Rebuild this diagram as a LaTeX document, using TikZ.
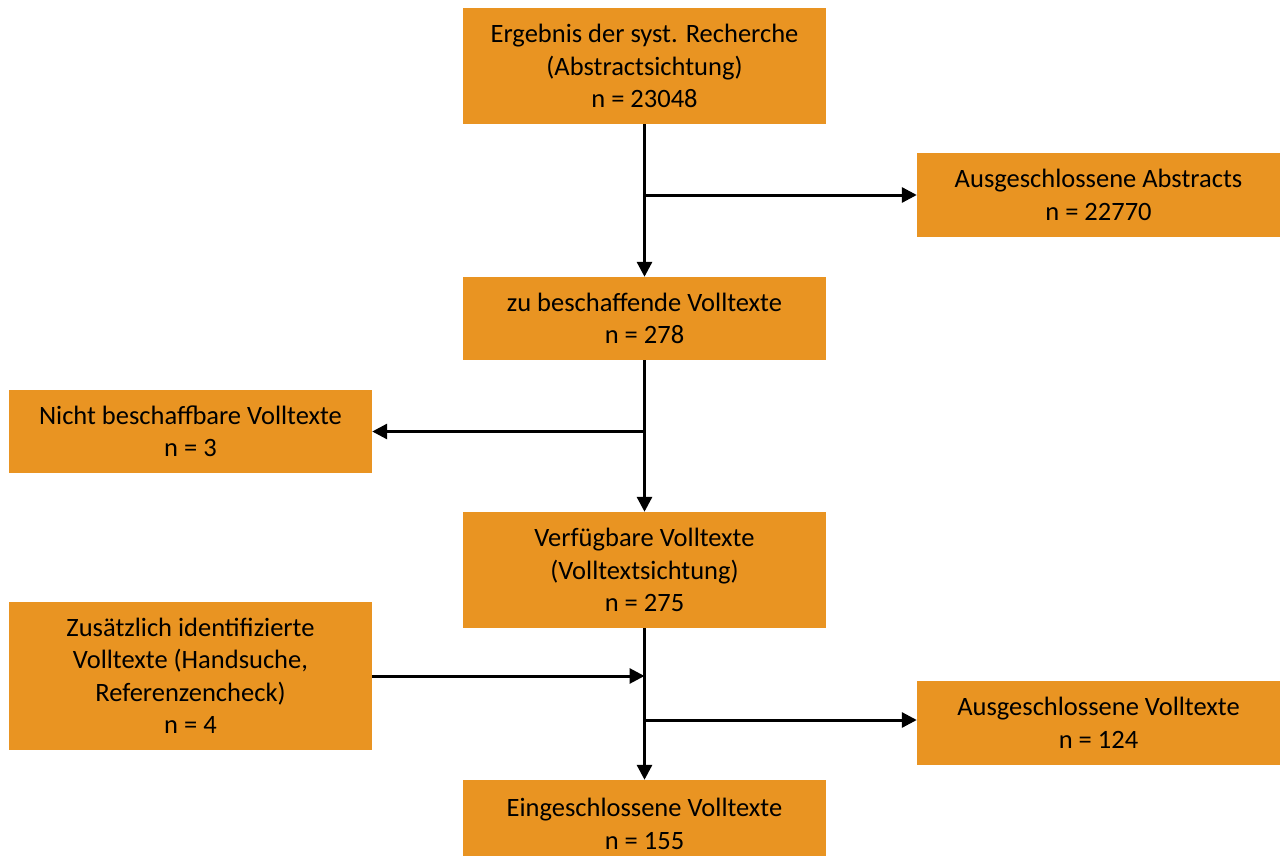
\documentclass[tikz,border=0pt]{standalone}
\usepackage{fontspec}
\setmainfont{Carlito}
\usetikzlibrary{arrows.meta}
\definecolor{boxorange}{RGB}{233,148,34}
\begin{document}
\begin{tikzpicture}[x=1pt,y=-1pt,
  txt/.style={align=center, inner sep=0pt, font=\fontsize{26.5}{32.5}\selectfont},
  box/.style={txt, fill=boxorange, draw=none, minimum width=363pt},
  conn/.style={line width=3pt, -{Triangle[length=15pt,width=15pt]}}]
\useasboundingbox (0,0) rectangle (1282,856);
\node[box, minimum height=116pt] (top) at (644.5,66) {Ergebnis der syst. Recherche\\(Abstractsichtung)\\n = 23048};
\node[box, minimum height=84pt] (ra) at (1098.5,195) {Ausgeschlossene Abstracts\\n = 22770};
\node[box, minimum height=83pt] (b2) at (644.5,318.5) {zu beschaffende Volltexte\\n = 278};
\node[box, minimum height=83pt] (la) at (190.5,431.5) {Nicht beschaffbare Volltexte\\n = 3};
\node[box, minimum height=116pt] (b3) at (644.5,570) {Verfügbare Volltexte\\(Volltextsichtung)\\n = 275};
\node[box, minimum height=148pt] (lb) at (190.5,676) {Zusätzlich identifizierte\\Volltexte (Handsuche,\\Referenzencheck)\\n = 4};
\node[box, minimum height=84pt] (rb) at (1098.5,723) {Ausgeschlossene Volltexte\\n = 124};
\node[box, minimum height=76pt] (bot) at (644.5,818) {};
\node[txt] (botlabel) at (644.5,824) {Eingeschlossene Volltexte\\n = 155};
\coordinate (j1) at (top.south |- ra.west);
\coordinate (j2) at (top.south |- la.east);
\coordinate (j3) at (top.south |- lb.east);
\coordinate (j4) at (645,720);
\draw[conn] (top.south) -- (b2.north);
\draw[conn] (j1) -- (ra.west);
\draw[conn] (b2.south) -- (b3.north);
\draw[conn] (j2) -- (la.east);
\draw[conn] (b3.south) -- (bot.north);
\draw[conn] (lb.east) -- (j3);
\draw[conn] (j4) -- (j4 -| rb.west);
\end{tikzpicture}
\end{document}
